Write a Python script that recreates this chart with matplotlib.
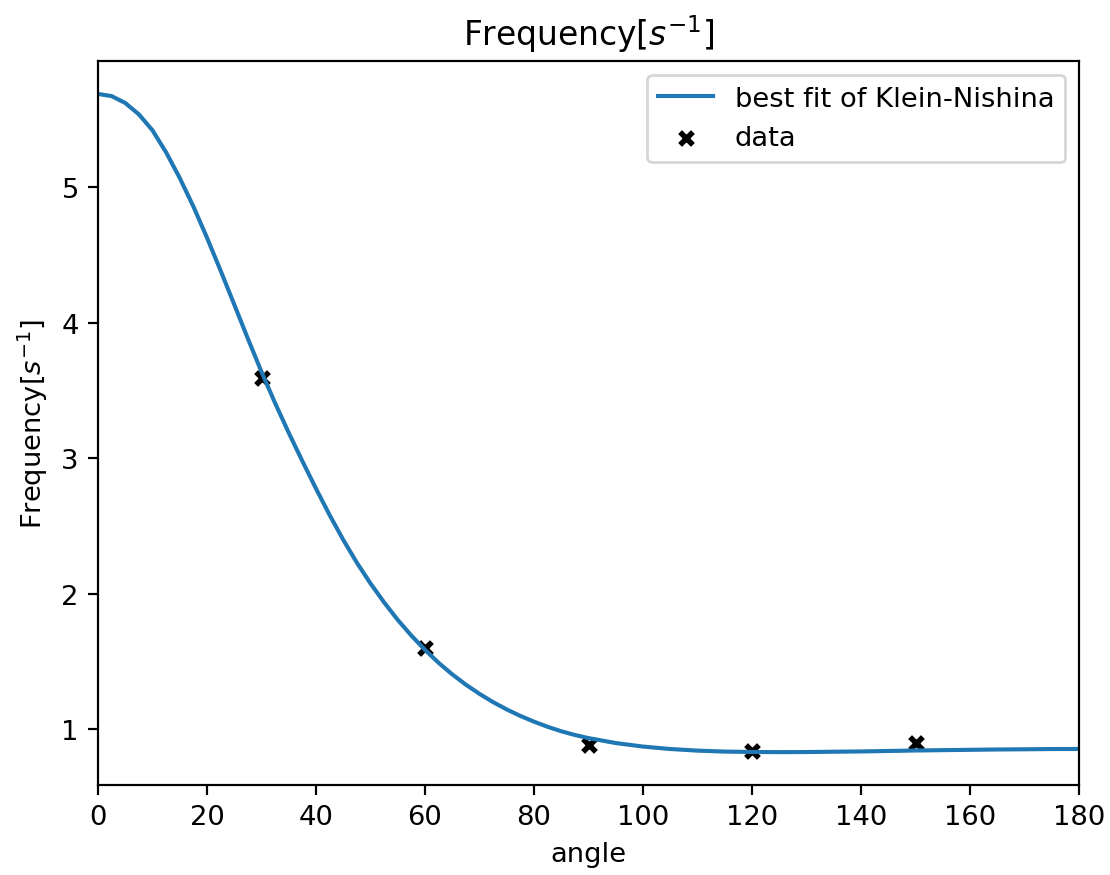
import numpy as np
import matplotlib
matplotlib.use("Agg")
import matplotlib.pyplot as plt

# fitted curve (2.5 deg steps up to 90, then 5 deg)
fit_angle = np.concatenate([np.arange(0, 90, 2.5), np.arange(90, 181, 5)])
fit_freq = [5.690, 5.674, 5.623, 5.539, 5.421, 5.258, 5.069, 4.859, 4.628,
            4.385, 4.135, 3.883, 3.638, 3.407, 3.188, 2.979, 2.776, 2.581,
            2.398, 2.229, 2.076, 1.936, 1.807, 1.691, 1.586, 1.490, 1.405,
            1.329, 1.261, 1.200, 1.146, 1.098, 1.056, 1.018, 0.985, 0.9575,
            0.9345, 0.898, 0.872, 0.854, 0.842, 0.835, 0.832, 0.831, 0.8315,
            0.834, 0.836, 0.8395, 0.843, 0.8456, 0.848, 0.8505, 0.852,
            0.8538, 0.8544]

# measured points
data_angle = [30, 60, 90, 120, 150]
data_freq = [3.59, 1.60, 0.88, 0.84, 0.895]

DPI = 197
fig = plt.figure(figsize=(1110 / DPI, 876 / DPI), dpi=DPI)
ax = fig.add_subplot(111)
fig.subplots_adjust(left=0.0883, right=0.9721, bottom=0.1027, top=0.9292)

ax.plot(fit_angle, fit_freq, label="best fit of Klein-Nishina")
ax.scatter(data_angle, data_freq, marker="x", color="black", s=22,
           linewidths=2, label="data")

ax.set_xlim(0, 180)
ax.set_xlabel("angle")
ax.set_ylabel("Frequency[$s^{-1}$]")
ax.set_title("Frequency[$s^{-1}$]")
ax.legend(loc="upper right")

fig.savefig("out.png", dpi=DPI)
